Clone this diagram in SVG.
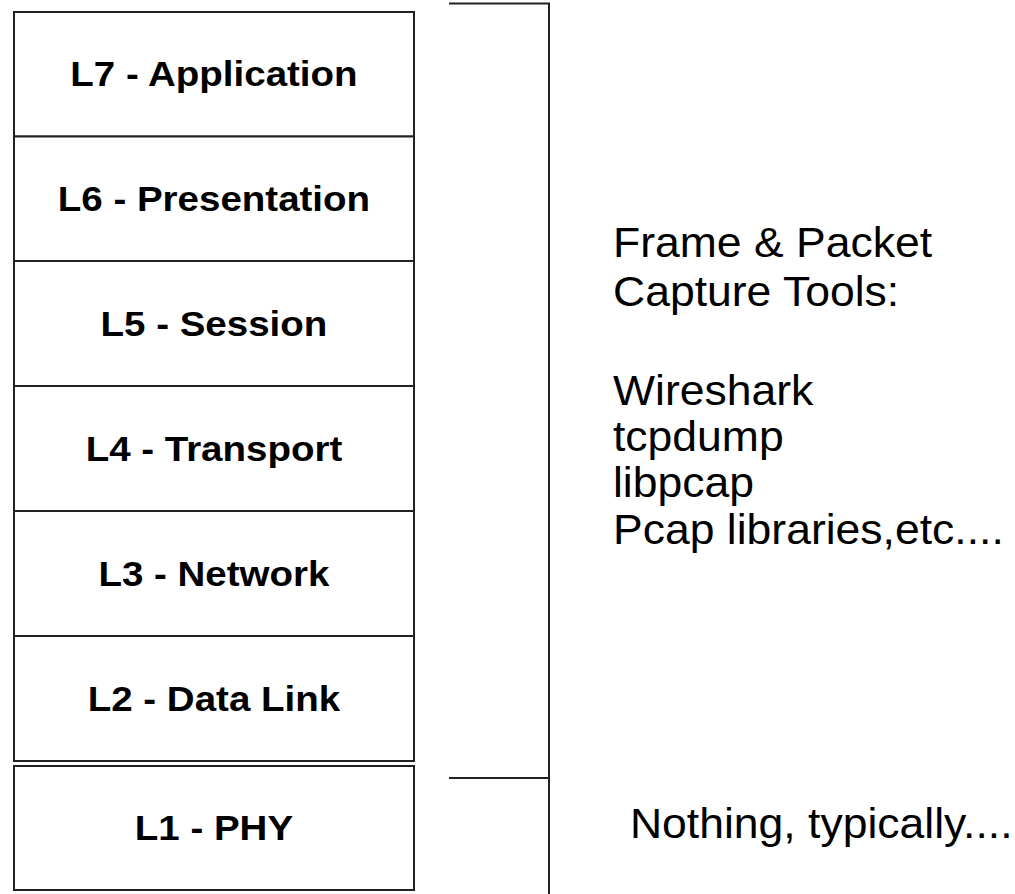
<svg xmlns="http://www.w3.org/2000/svg" width="1015" height="894" viewBox="0 0 1015 894">
<style>
.box{fill:#fff;stroke:#222;stroke-width:2}
.lbl{font-family:"Liberation Sans",Arial,sans-serif;font-weight:bold;font-size:35px;fill:#000;text-anchor:middle}
.txt{font-family:"Liberation Sans",Arial,sans-serif;font-size:42px;fill:#000}
.ln{stroke:#222;stroke-width:2;fill:none}
</style>
<rect width="1015" height="894" fill="#fff"/>
<g id="L7"><rect class="box" x="14" y="12" width="400" height="124.5"/><text class="lbl" transform="scale(1.1,1)" x="194.5" y="86">L7 - Application</text></g>
<g id="L6"><rect class="box" x="14" y="136.5" width="400" height="124.5"/><text class="lbl" transform="scale(1.1,1)" x="194.5" y="211">L6 - Presentation</text></g>
<g id="L5"><rect class="box" x="14" y="261" width="400" height="125"/><text class="lbl" transform="scale(1.1,1)" x="194.5" y="336">L5 - Session</text></g>
<g id="L4"><rect class="box" x="14" y="386" width="400" height="125"/><text class="lbl" transform="scale(1.1,1)" x="194.5" y="461">L4 - Transport</text></g>
<g id="L3"><rect class="box" x="14" y="511" width="400" height="125"/><text class="lbl" transform="scale(1.1,1)" x="194.5" y="586">L3 - Network</text></g>
<g id="L2"><rect class="box" x="14" y="636" width="400" height="125"/><text class="lbl" transform="scale(1.1,1)" x="194.5" y="711">L2 - Data Link</text></g>
<g id="L1"><rect class="box" x="14" y="766" width="400" height="124"/><text class="lbl" transform="scale(1.1,1)" x="194.5" y="840">L1 - PHY</text></g>
<g id="connectors">
<polyline class="ln" points="449,3.5 549,3.5 549,894"/>
<line class="ln" x1="449" y1="778" x2="549" y2="778"/>
</g>
<g id="capture-text" transform="scale(1.06,1)">
<text class="txt" x="578.3" y="257">Frame &amp; Packet</text>
<text class="txt" x="578.3" y="306">Capture Tools:</text>
<text class="txt" x="578.3" y="405">Wireshark</text>
<text class="txt" x="578.3" y="451">tcpdump</text>
<text class="txt" x="578.3" y="497">libpcap</text>
<text class="txt" x="578.3" y="544">Pcap libraries,etc....</text>
</g>
<g id="nothing-text" transform="scale(1.06,1)"><text class="txt" x="594.3" y="838" font-size="41.5">Nothing, typically....</text></g>
</svg>
